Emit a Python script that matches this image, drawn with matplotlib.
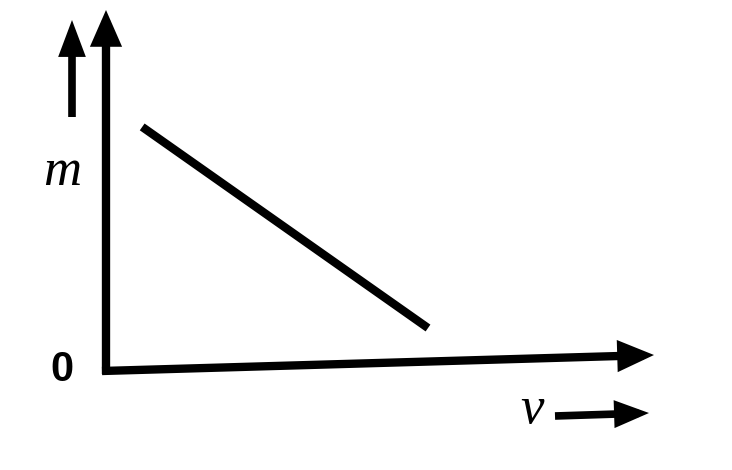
import matplotlib
matplotlib.use("Agg")
import matplotlib.pyplot as plt
from matplotlib.patches import FancyArrowPatch

# data (axis units: x = v, y = m)
v_vals = [0.067, 0.582]
m_vals = [0.666, 0.115]

fig = plt.figure(figsize=(7.32, 4.70), dpi=100)
ax = fig.add_axes([0, 0, 1, 1])
# pixel mapping: origin at (105, 370); x unit = 555 px, y unit = 365 px
ax.set_xlim(-105 / 555, (732 - 105) / 555)
ax.set_ylim(-(470 - 370) / 365, 370 / 365)
ax.axis("off")

def px(x, y):
    return ((x - 105) / 555, (370 - y) / 365)

def arrow(p0, p1, lw=5.5, hl=14, hw=9):
    a = FancyArrowPatch(px(*p0), px(*p1),
                        arrowstyle=f"-|>,head_length={hl/10},head_width={hw/10}",
                        mutation_scale=10, lw=lw, color="black",
                        capstyle="butt", joinstyle="miter", shrinkA=0, shrinkB=0)
    ax.add_patch(a)

# axes
arrow((106, 374), (106, 10), lw=6, hl=16, hw=7)
arrow((102, 371), (654, 355), lw=6, hl=16, hw=7)
# side arrows
arrow((72, 117), (72, 20), lw=5.5, hl=16, hw=6)
arrow((555, 416), (649, 413), lw=5.5, hl=15, hw=6)

# data line
ax.plot(v_vals, m_vals, color="black", lw=6, solid_capstyle="butt")

# labels
ax.text(*px(62, 370), "0", fontsize=30, fontweight="bold", family="Liberation Sans",
        ha="center", va="center")
ax.text(*px(62, 172), "m", fontsize=38, style="italic", family="Liberation Serif",
        ha="center", va="center")
ax.text(*px(532, 410), "v", fontsize=38, style="italic", family="Liberation Serif",
        ha="center", va="center")

fig.savefig("out.png", dpi=100)
